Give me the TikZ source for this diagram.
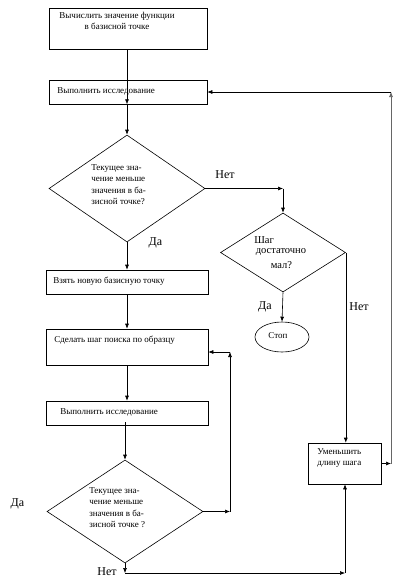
\documentclass[tikz,border=0pt]{standalone}
\usepackage{fontspec}
\setmainfont{Liberation Serif}
\usetikzlibrary{arrows.meta,shapes.geometric}
\begin{document}
\begin{tikzpicture}[x=1pt,y=-1pt,
  line width=0.6pt,
  arr/.style={-{Latex[length=5pt,width=4pt]}},
  boxnode/.style={draw,rectangle,inner sep=0pt},
  dia/.style={draw,diamond,inner sep=0pt},
  txt/.style={inner sep=0pt,font=\fontsize{9}{11.5}\selectfont},
  bigtxt/.style={inner sep=0pt,font=\fontsize{10.5}{13}\selectfont},
  lbl/.style={inner sep=0pt,font=\fontsize{12}{14}\selectfont}]
\useasboundingbox (0,0) rectangle (402,587);
% boxes
\node[boxnode,minimum width=158pt,minimum height=41pt] (b1) at (128,28.5) {};
\node[boxnode,minimum width=158pt,minimum height=24pt] (b2) at (128,92) {};
\node[dia,minimum width=156pt,minimum height=107pt] (d1) at (127,188.5) {};
\node[dia,minimum width=125pt,minimum height=79pt] (d2) at (283,252.5) {};
\node[draw,ellipse,inner sep=0pt,minimum width=54pt,minimum height=30pt] (stop) at (282,337) {};
\node[boxnode,minimum width=162pt,minimum height=24pt] (b3) at (127,282) {};
\node[boxnode,minimum width=162pt,minimum height=36pt] (b4) at (127,347) {};
\node[boxnode,minimum width=162pt,minimum height=24pt] (b5) at (127,413) {};
\node[dia,minimum width=156pt,minimum height=103pt] (d3) at (125,511.5) {};
\node[boxnode,minimum width=73pt,minimum height=41pt] (b6) at (344.5,463.5) {};
% texts
\node[txt,align=center,anchor=north] (t1) at (117,11.5) {Вычислить значение функции\\в базисной точке};
\node[txt,anchor=west] (t2) at (57,91) {Выполнить исследование};
\node[txt,align=left,anchor=north west] (t3) at (91,164) {Текущее зна-\\чение меньше\\значения в ба-\\зисной точке?};
\node[bigtxt,anchor=west] (t4a) at (254,240) {Шаг};
\node[bigtxt] (t4b) at (281,252.5) {достаточно};
\node[bigtxt] (t4c) at (281.5,265.5) {мал?};
\node[txt] (t5) at (278,336) {Стоп};
\node[txt,anchor=west] (t6) at (53,281) {Взять новую базисную точку};
\node[txt,anchor=west] (t7) at (54,340) {Сделать шаг поиска по образцу};
\node[txt,anchor=west] (t8) at (60,412) {Выполнить исследование};
\node[txt,align=left,anchor=north west] (t9) at (89,487) {Текущее зна-\\чение меньше\\значения в ба-\\зисной точке ?};
\node[txt,align=left,anchor=north west] (t10) at (317,448) {Уменьшить\\длину шага};
% labels
\node[lbl] (n1) at (225,175) {Нет};
\node[lbl] (y1) at (155.5,242.5) {Да};
\node[lbl] (y2) at (265,306.5) {Да};
\node[lbl] (n2) at (359,307) {Нет};
\node[lbl] (y3) at (17.5,503.5) {Да};
\node[lbl] (n3) at (107,572) {Нет};
% coordinates
\coordinate (c1) at (283,188.5);
\coordinate (c3) at (230,511.5);
\coordinate (c4) at (230,352);
\coordinate (c5) at (125,573);
\coordinate (c6) at (345,573);
\coordinate (c7) at (391,463.5);
\coordinate (c8) at (391,92);
% connectors
\draw[arr] (b1.south -| d1.north) -- (b2.south -| d1.north |- b2.north);
\draw[arr] (b2.south -| d1.north) -- (d1.north);
\draw[arr] (d1.east) -- (c1);
\draw[arr] (c1) -- (d2.north);
\draw[arr] (d1.south) -- (b3.north);
\draw[arr] (d2.south) -- (stop.north);
\draw[arr] (d2.east) -- (d2.east |- b6.north);
\draw[arr] (b3.south) -- (b4.north);
\draw[arr] (b4.south) -- (b5.north);
\draw[arr] ([yshift=3pt]b5.south -| d3.north) -- (d3.north);
\draw[arr] (d3.east) -- (c3);
\draw[arr] (c3) -- (c4);
\draw[arr] (c4) -- (c4 -| b4.east);
\draw[arr] (d3.south) -- (c5);
\draw[arr] (c5) -- (c6);
\draw[arr] (c6) -- (b6.south -| c6);
\draw[arr] (b6.east) -- (c7);
\draw[arr,draw=gray!80!black] (c7) -- (c8);
\draw[arr] (c8) -- (b2.east);
\end{tikzpicture}
\end{document}
